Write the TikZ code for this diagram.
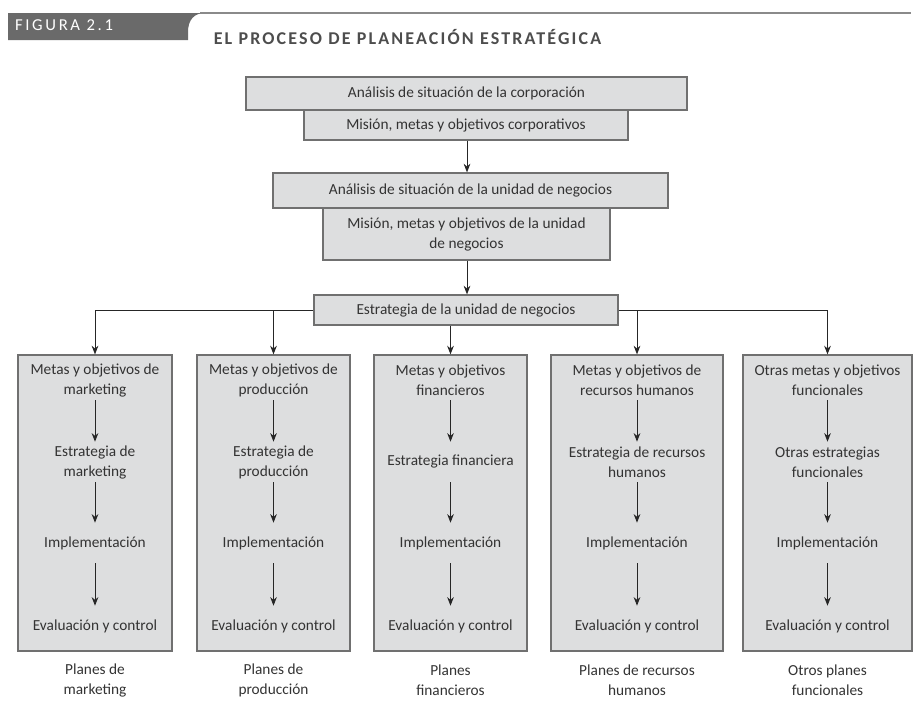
\documentclass[tikz,border=0pt]{standalone}
\usepackage{fontspec}
\setmainfont{Carlito}
\newfontfamily\tabfont[LetterSpace=16]{Carlito}
\newfontfamily\titlefont[LetterSpace=12]{Carlito}
\usetikzlibrary{arrows.meta}
\definecolor{boxfill}{HTML}{DDDEDF}
\definecolor{boxline}{HTML}{707070}
\definecolor{txt}{HTML}{333333}
\definecolor{tabgray}{HTML}{6A6A6A}
\definecolor{rulegray}{HTML}{8A8A8A}
\definecolor{titlegray}{HTML}{4D4D4D}
\tikzset{
  every node/.style={font=\fontsize{11.5}{15}\selectfont, text=txt},
  topbox/.style={draw=boxline, fill=boxfill, line width=0.9pt, align=center, inner sep=0pt},
  colbox/.style={draw=boxline, fill=boxfill, line width=0.9pt, inner sep=0pt},
  stage/.style={align=center, minimum height=30pt, inner sep=0pt},
  plan/.style={align=center, inner sep=0pt},
  flecha/.style={-{Stealth[length=6.5pt,width=5pt]}, line width=0.7pt, draw=black!85}
}
\begin{document}
\begin{tikzpicture}[x=0.75pt,y=-0.75pt]
  \useasboundingbox (0,0) rectangle (913,704);
  \fill[tabgray] (8,13) -- (205,13) .. controls (194,13) and (188,20) .. (188,32) -- (188,40) -- (8,40) -- cycle;
  \draw[rulegray, line width=0.8pt] (200,13) -- (911,13);
  \node[text=white, font=\tabfont\fontsize{12.5}{13}\selectfont] (fig) at (64,25) {FIGURA 2.1};
  \node[text=titlegray, font=\titlefont\bfseries\fontsize{13.5}{14}\selectfont] (title) at (407.5,37) {EL PROCESO DE PLANEACIÓN ESTRATÉGICA};

  \node[topbox, minimum width=330.75pt, minimum height=24.75pt] (acorp) at (466.5,93.5) {Análisis de situación de la corporación};
  \node[topbox, minimum width=243pt, minimum height=22.5pt] (mcorp) at (466,125) {Misión, metas y objetivos corporativos};
  \node[topbox, minimum width=296.25pt, minimum height=26.25pt] (aun) at (470.5,190.5) {Análisis de situación de la unidad de negocios};
  \node[topbox, minimum width=215.25pt, minimum height=39pt] (mun) at (466.5,234) {Misión, metas y objetivos de la unidad\\ de negocios};
  \node[topbox, minimum width=228pt, minimum height=22.5pt] (eun) at (466,310) {Estrategia de la unidad de negocios};
  \draw[flecha] (mcorp.south -| 467,0) -- (aun.north -| 467,0);
  \draw[flecha] (mun.south -| 467,0) -- (eun.north -| 467,0);

  \foreach \i/\x/\w/\m/\e/\p in {
    1/95/115.5/{Metas y objetivos de\\ marketing}/{Estrategia de\\ marketing}/{Planes de\\ marketing},
    2/273.5/114.75/{Metas y objetivos de\\ producción}/{Estrategia de\\ producción}/{Planes de\\ producción},
    3/450.5/114.75/{Metas y objetivos\\ financieros}/{Estrategia financiera}/{Planes\\ financieros},
    4/637/129/{Metas y objetivos de\\ recursos humanos}/{Estrategia de recursos\\ humanos}/{Planes de recursos\\ humanos},
    5/827.5/126.75/{Otras metas y objetivos\\ funcionales}/{Otras estrategias\\ funcionales}/{Otros planes\\ funcionales}} {
    \node[colbox, minimum width=\w pt, minimum height=222pt] (c\i) at (\x,503) {};
    \node[stage] (m\i) at (\x,380) {\m};
    \node[stage] (e\i) at (\x,462) {\e};
    \node[stage] (i\i) at (\x,543) {Implementación};
    \node[stage] (v\i) at (\x,626) {Evaluación y control};
    \node[plan] (p\i) at (\x,680) {\p};
    \draw[flecha] (m\i) -- (e\i);
    \draw[flecha] (e\i) -- (i\i);
    \draw[flecha] (i\i) -- (v\i);
  }

  \draw[flecha] (eun.west) -| (c1.north);
  \draw[flecha] (eun.east) -| (c5.north);
  \draw[flecha] (c2.north |- eun.west) -- (c2.north);
  \draw[flecha] (c3.north |- eun.south) -- (c3.north);
  \draw[flecha] (c4.north |- eun.east) -- (c4.north);
\end{tikzpicture}
\end{document}
